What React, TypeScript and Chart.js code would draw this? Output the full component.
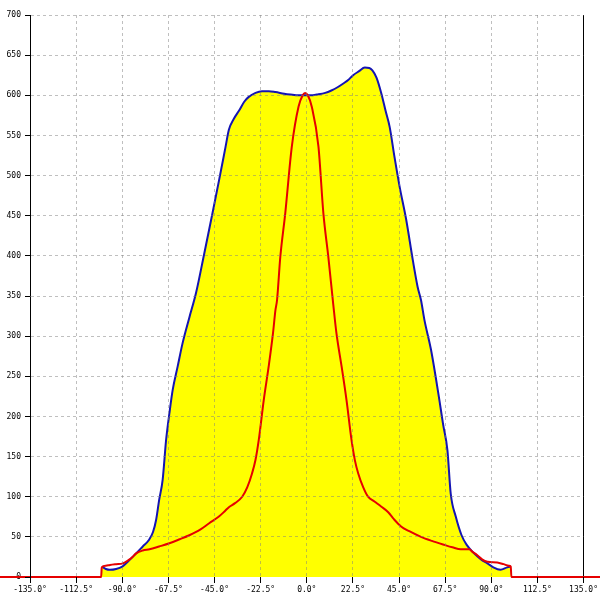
import React, { useEffect, useRef } from "react";
import { Chart, registerables } from "chart.js";

Chart.register(...registerables);

const xTickMin = -135;
const xTickMax = 135;
const xTickStep = 22.5;
const yTickMin = 0;
const yTickMax = 700;
const yTickStep = 50;

const envelopeAngles = [
  -100, -98, -96, -93, -90, -86.5, -83, -80, -77, -75, -73.5, -72, -70.3, -68.6, -67, -65.4,
  -63, -60.6, -57.3, -54, -50, -46, -42.8, -39.6, -38, -35.5, -33, -30.5, -28.3, -25, -21.8,
  -18.5, -15.3, -11, -8, -4, -1, 2, 5, 9, 12, 15, 18, 20.2, 22.6, 25.5, 28.3, 30.5, 32, 34,
  36.4, 38.5, 40.4, 42.8, 45.3, 48.5, 51.7, 54.1, 55.7, 57.4, 60.6, 64.7, 66.5, 68.6, 70.2,
  72.7, 75.5, 78, 81.6, 85, 88.1, 91, 94.5, 97.8, 99.5,
];
const envelopeValues = [
  13, 10, 9, 10, 13, 21, 30, 38, 46, 56, 71, 96, 121, 171, 204, 233,
  262, 291, 323, 354, 403, 453, 494, 536, 557, 571, 581, 592, 598, 603, 605,
  605, 604, 602, 601, 600, 600, 600, 601, 603, 606, 610, 615, 619, 625, 630, 634.5, 634, 631, 622,
  602, 580, 561, 523, 486, 445, 395, 361, 345, 320, 283, 220, 190, 158, 104,
  75, 52, 40, 29.5, 22, 17, 12, 9, 12, 13,
];

const beamAngles = [
  -150, -100.3, -100, -98, -96, -93, -89.7, -87, -85, -83.2, -80, -76.7, -72, -67, -62, -57.3,
  -52, -47.6, -43, -40, -38, -35, -31.5, -29, -26.7, -25, -23.4, -21, -18.6, -16.5, -15.3,
  -14.5, -12.9, -10.5, -7.3, -4, -2, -0.8, 0.5, 2.4, 5.7, 8.1, 10.5, 12.9, 14.5, 17, 19.4,
  21.8, 23.5, 25.1, 27.5, 29.9, 33, 36.4, 39.6, 42.5, 46, 50, 55.7, 61, 67.1, 71, 75.1, 79.2,
  81, 83.2, 85.5, 88.1, 92.9, 96, 98.6, 99.5, 99.8, 150,
];
const beamValues = [
  0, 0, 12, 14, 15, 16, 17, 21, 25, 29.5, 33, 34.5, 38, 42, 47, 52,
  59, 67, 75, 82, 87, 92, 100, 112, 129, 146, 171, 220, 262, 303, 332,
  345, 399, 453, 536, 586, 600, 603, 600, 586, 536, 453, 399, 340, 303, 262, 220,
  171, 145, 129, 112, 100, 94, 87.5, 81, 72, 63, 57, 50, 45, 40, 37, 34.5, 34.5,
  31, 27, 22, 19, 18, 16, 14, 13, 0, 0,
];

const tickFont = { family: "'DejaVu Sans Mono', monospace", size: 8 };
const gridGray = "rgba(128,128,128,0.5)";

export default function App() {
  const canvasRef = useRef<HTMLCanvasElement | null>(null);

  useEffect(() => {
    const canvas = canvasRef.current;
    if (!canvas) return;
    const chart = new Chart(canvas, {
      type: "line",
      data: {
        datasets: [
          {
            label: "beam",
            data: beamAngles.map((a, i) => ({ x: a, y: beamValues[i] })),
            borderColor: "#e60000",
            borderWidth: 2,
            pointRadius: 0,
            fill: false,
            cubicInterpolationMode: "monotone",
            clip: false as any,
            order: 0,
          },
          {
            label: "envelope",
            data: envelopeAngles.map((a, i) => ({ x: a, y: envelopeValues[i] })),
            borderColor: "#1414b4",
            backgroundColor: "#ffff00",
            borderWidth: 2,
            pointRadius: 0,
            fill: "origin",
            cubicInterpolationMode: "monotone",
            order: 1,
          },
        ],
      },
      options: {
        responsive: false,
        animation: false,
        layout: { padding: { top: 15, right: 15, left: 0, bottom: 0 } },
        plugins: { legend: { display: false }, tooltip: { enabled: false } },
        scales: {
          x: {
            type: "linear",
            min: xTickMin,
            max: xTickMax,
            afterFit: (s: any) => {
              s.height = 23;
            },
            ticks: {
              stepSize: xTickStep,
              autoSkip: false,
              maxRotation: 0,
              color: "#000",
              font: tickFont,
              padding: 2,
              callback: (v: any) => Number(v).toFixed(1) + "°",
            },
            grid: {
              z: 1,
              color: (ctx: any) =>
                ctx.tick && (ctx.tick.value === xTickMin || ctx.tick.value === xTickMax)
                  ? "rgba(0,0,0,0)"
                  : gridGray,
              tickColor: "#000",
              tickLength: 6,
              tickBorderDash: [],
            },
            border: { display: false, dash: [3, 3], z: 2 },
          },
          y: {
            type: "linear",
            min: yTickMin,
            max: yTickMax,
            afterFit: (s: any) => {
              s.width = 30;
            },
            ticks: {
              stepSize: yTickStep,
              color: "#000",
              font: tickFont,
              padding: 4,
            },
            grid: {
              z: 1,
              color: (ctx: any) =>
                ctx.tick && ctx.tick.value === yTickMin ? "rgba(0,0,0,0)" : gridGray,
              tickColor: "#000",
              tickLength: 5,
              tickBorderDash: [],
            },
            border: { display: true, color: "#000", width: 1, dash: [3, 3], z: 2 },
          },
          y2: {
            type: "linear",
            position: "right",
            min: yTickMin,
            max: yTickMax,
            afterFit: (s: any) => {
              s.width = 0;
            },
            ticks: { display: false },
            grid: { display: false, drawTicks: false },
            border: { display: true, color: "#000", width: 1 },
          },
        },
      },
    });
    return () => chart.destroy();
  }, []);

  return (
    <div style={{ position: "fixed", left: 0, top: 0, width: 600, height: 600, background: "#fff" }}>
      <canvas ref={canvasRef} width={600} height={600} style={{ width: 600, height: 600 }} />
    </div>
  );
}
